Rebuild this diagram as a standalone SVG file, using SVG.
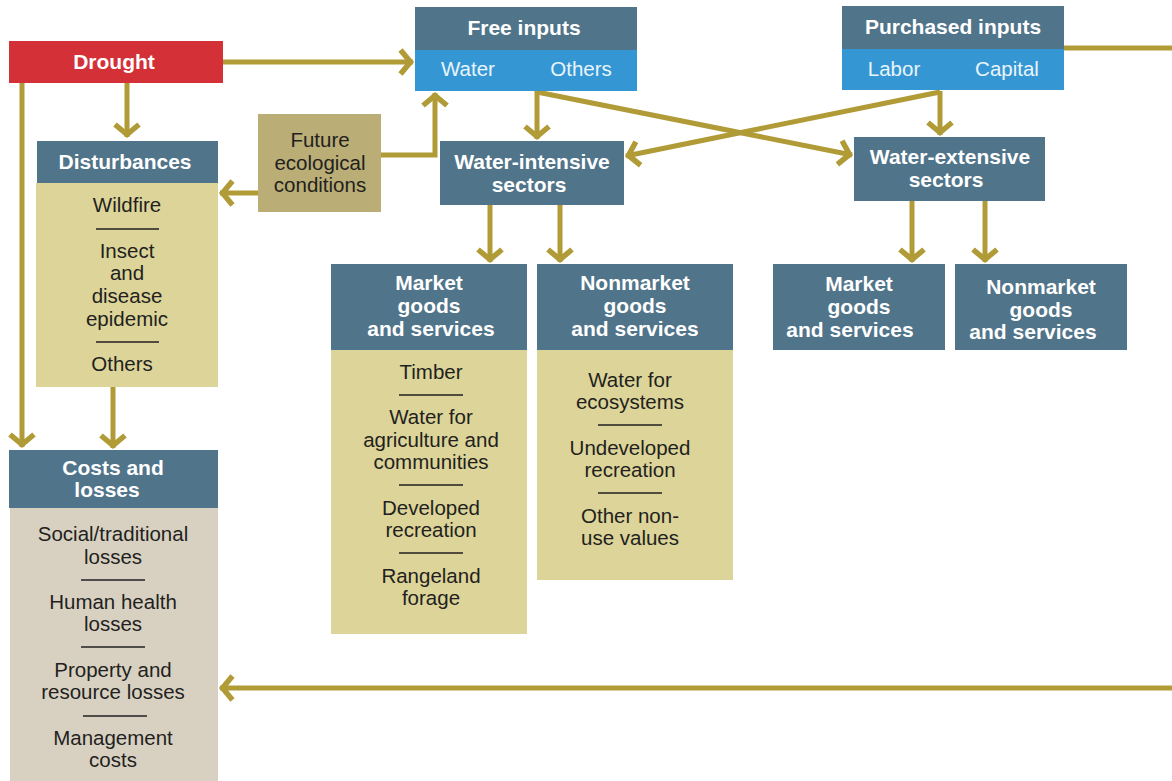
<svg xmlns="http://www.w3.org/2000/svg" width="1172" height="781" viewBox="0 0 1172 781">
<defs>
<marker id="arr" markerUnits="userSpaceOnUse" markerWidth="30" markerHeight="30" viewBox="-20 -15 30 30" refX="0" refY="0" orient="auto">
<path d="M-12.5,-12 L-2.5,0 L-12.5,12" fill="none" stroke="#B09B37" stroke-width="5.5"/>
</marker>
</defs>
<style>
.hd{fill:#50748A}
.bl{fill:#3497D3}
.yb{fill:#DCD498}
.ht{font-family:"Liberation Sans",Arial,sans-serif;font-weight:bold;font-size:21px;fill:#fff;text-anchor:middle}
.st{font-family:"Liberation Sans",Arial,sans-serif;font-size:20.5px;fill:#EAF4FB;text-anchor:middle}
.bt{font-family:"Liberation Sans",Arial,sans-serif;font-size:20.5px;fill:#231F20;text-anchor:middle}
.sep{stroke:#231F20;stroke-width:1.5}
.c{fill:none;stroke:#B09B37;stroke-width:5}
</style>
<rect width="1172" height="781" fill="#fff"/>
<g id="connectors">
<path class="c" d="M223,62 H413" marker-end="url(#arr)"/>
<path class="c" d="M127,83 V137" marker-end="url(#arr)"/>
<path class="c" d="M22,83 V447" marker-end="url(#arr)"/>
<path class="c" d="M113,387 V448" marker-end="url(#arr)"/>
<path class="c" d="M258,193 H220" marker-end="url(#arr)"/>
<path class="c" d="M381,155 H435 V93" marker-end="url(#arr)"/>
<path class="c" d="M537,91 V139" marker-end="url(#arr)"/>
<path class="c" d="M537,92 L852,155" marker-end="url(#arr)"/>
<path class="c" d="M940,92 L626,156" marker-end="url(#arr)"/>
<path class="c" d="M940,91 V135" marker-end="url(#arr)"/>
<path class="c" d="M490,205 V262" marker-end="url(#arr)"/>
<path class="c" d="M560,205 V262" marker-end="url(#arr)"/>
<path class="c" d="M912,201 V262" marker-end="url(#arr)"/>
<path class="c" d="M985,201 V262" marker-end="url(#arr)"/>
<path class="c" d="M1064,48 H1172"/>
<path class="c" d="M1172,688 H220" marker-end="url(#arr)"/>
</g>
<g id="drought">
<rect x="9" y="41" width="214" height="42" fill="#D33038"/>
<text class="ht" x="114" y="69" font-size="22">Drought</text>
</g>
<g id="free-inputs">
<rect class="hd" x="415" y="7" width="222" height="43"/>
<rect class="bl" x="415" y="50" width="222" height="41"/>
<text class="ht" x="524" y="35">Free inputs</text>
<text class="st" x="468" y="76">Water</text>
<text class="st" x="581" y="76">Others</text>
</g>
<g id="purchased-inputs">
<rect class="hd" x="842" y="6" width="222" height="43"/>
<rect class="bl" x="842" y="49" width="222" height="41"/>
<text class="ht" x="953" y="34">Purchased inputs</text>
<text class="st" x="894" y="76">Labor</text>
<text class="st" x="1007" y="76">Capital</text>
</g>
<g id="future">
<rect x="258" y="114" width="123" height="98" fill="#BAAD75"/>
<text class="bt" x="320" y="147">Future</text>
<text class="bt" x="320" y="170">ecological</text>
<text class="bt" x="320" y="192">conditions</text>
</g>
<g id="disturbances">
<rect class="hd" x="37" y="141" width="181" height="42"/>
<rect class="yb" x="36" y="183" width="182" height="204"/>
<text class="ht" x="125" y="169">Disturbances</text>
<text class="bt" x="127" y="212">Wildfire</text>
<line class="sep" x1="96" y1="229" x2="159" y2="229"/>
<text class="bt" x="127" y="258">Insect</text>
<text class="bt" x="127" y="280">and</text>
<text class="bt" x="127" y="303">disease</text>
<text class="bt" x="127" y="326">epidemic</text>
<line class="sep" x1="96" y1="342" x2="159" y2="342"/>
<text class="bt" x="122" y="371">Others</text>
</g>
<g id="costs">
<rect class="hd" x="9" y="450" width="209" height="58"/>
<rect x="10" y="508" width="208" height="273" fill="#D8D1C2"/>
<text class="ht" x="113" y="475">Costs and</text>
<text class="ht" x="107" y="497">losses</text>
<text class="bt" x="113" y="541">Social/traditional</text>
<text class="bt" x="113" y="564">losses</text>
<line class="sep" x1="81" y1="580" x2="145" y2="580"/>
<text class="bt" x="113" y="609">Human health</text>
<text class="bt" x="113" y="631">losses</text>
<line class="sep" x1="81" y1="647" x2="145" y2="647"/>
<text class="bt" x="113" y="677">Property and</text>
<text class="bt" x="113" y="699">resource losses</text>
<line class="sep" x1="83" y1="716" x2="147" y2="716"/>
<text class="bt" x="113" y="745">Management</text>
<text class="bt" x="113" y="767">costs</text>
</g>
<g id="water-intensive">
<rect class="hd" x="440" y="141" width="184" height="64"/>
<text class="ht" x="532" y="169">Water-intensive</text>
<text class="ht" x="529" y="192">sectors</text>
</g>
<g id="water-extensive">
<rect class="hd" x="854" y="137" width="191" height="64"/>
<text class="ht" x="950" y="164">Water-extensive</text>
<text class="ht" x="946" y="187">sectors</text>
</g>
<g id="market-left">
<rect class="hd" x="331" y="264" width="196" height="86"/>
<rect class="yb" x="331" y="350" width="196" height="284"/>
<text class="ht" x="429" y="290">Market</text>
<text class="ht" x="429" y="313">goods</text>
<text class="ht" x="431" y="336">and services</text>
<text class="bt" x="431" y="379">Timber</text>
<line class="sep" x1="399" y1="395" x2="463" y2="395"/>
<text class="bt" x="431" y="424">Water for</text>
<text class="bt" x="431" y="447">agriculture and</text>
<text class="bt" x="431" y="469">communities</text>
<line class="sep" x1="399" y1="485" x2="463" y2="485"/>
<text class="bt" x="431" y="515">Developed</text>
<text class="bt" x="431" y="537">recreation</text>
<line class="sep" x1="399" y1="553" x2="463" y2="553"/>
<text class="bt" x="431" y="583">Rangeland</text>
<text class="bt" x="431" y="605">forage</text>
</g>
<g id="nonmarket-left">
<rect class="hd" x="537" y="264" width="196" height="86"/>
<rect class="yb" x="537" y="350" width="196" height="230"/>
<text class="ht" x="635" y="290">Nonmarket</text>
<text class="ht" x="635" y="313">goods</text>
<text class="ht" x="635" y="336">and services</text>
<text class="bt" x="630" y="387">Water for</text>
<text class="bt" x="630" y="409">ecosystems</text>
<line class="sep" x1="598" y1="425" x2="662" y2="425"/>
<text class="bt" x="630" y="455">Undeveloped</text>
<text class="bt" x="630" y="477">recreation</text>
<line class="sep" x1="598" y1="493" x2="662" y2="493"/>
<text class="bt" x="630" y="523">Other non-</text>
<text class="bt" x="630" y="545">use values</text>
</g>
<g id="market-right">
<rect class="hd" x="773" y="264" width="172" height="86"/>
<text class="ht" x="859" y="291">Market</text>
<text class="ht" x="859" y="314">goods</text>
<text class="ht" x="850" y="337">and services</text>
</g>
<g id="nonmarket-right">
<rect class="hd" x="955" y="264" width="172" height="86"/>
<text class="ht" x="1041" y="294">Nonmarket</text>
<text class="ht" x="1041" y="317">goods</text>
<text class="ht" x="1033" y="339">and services</text>
</g>
</svg>
